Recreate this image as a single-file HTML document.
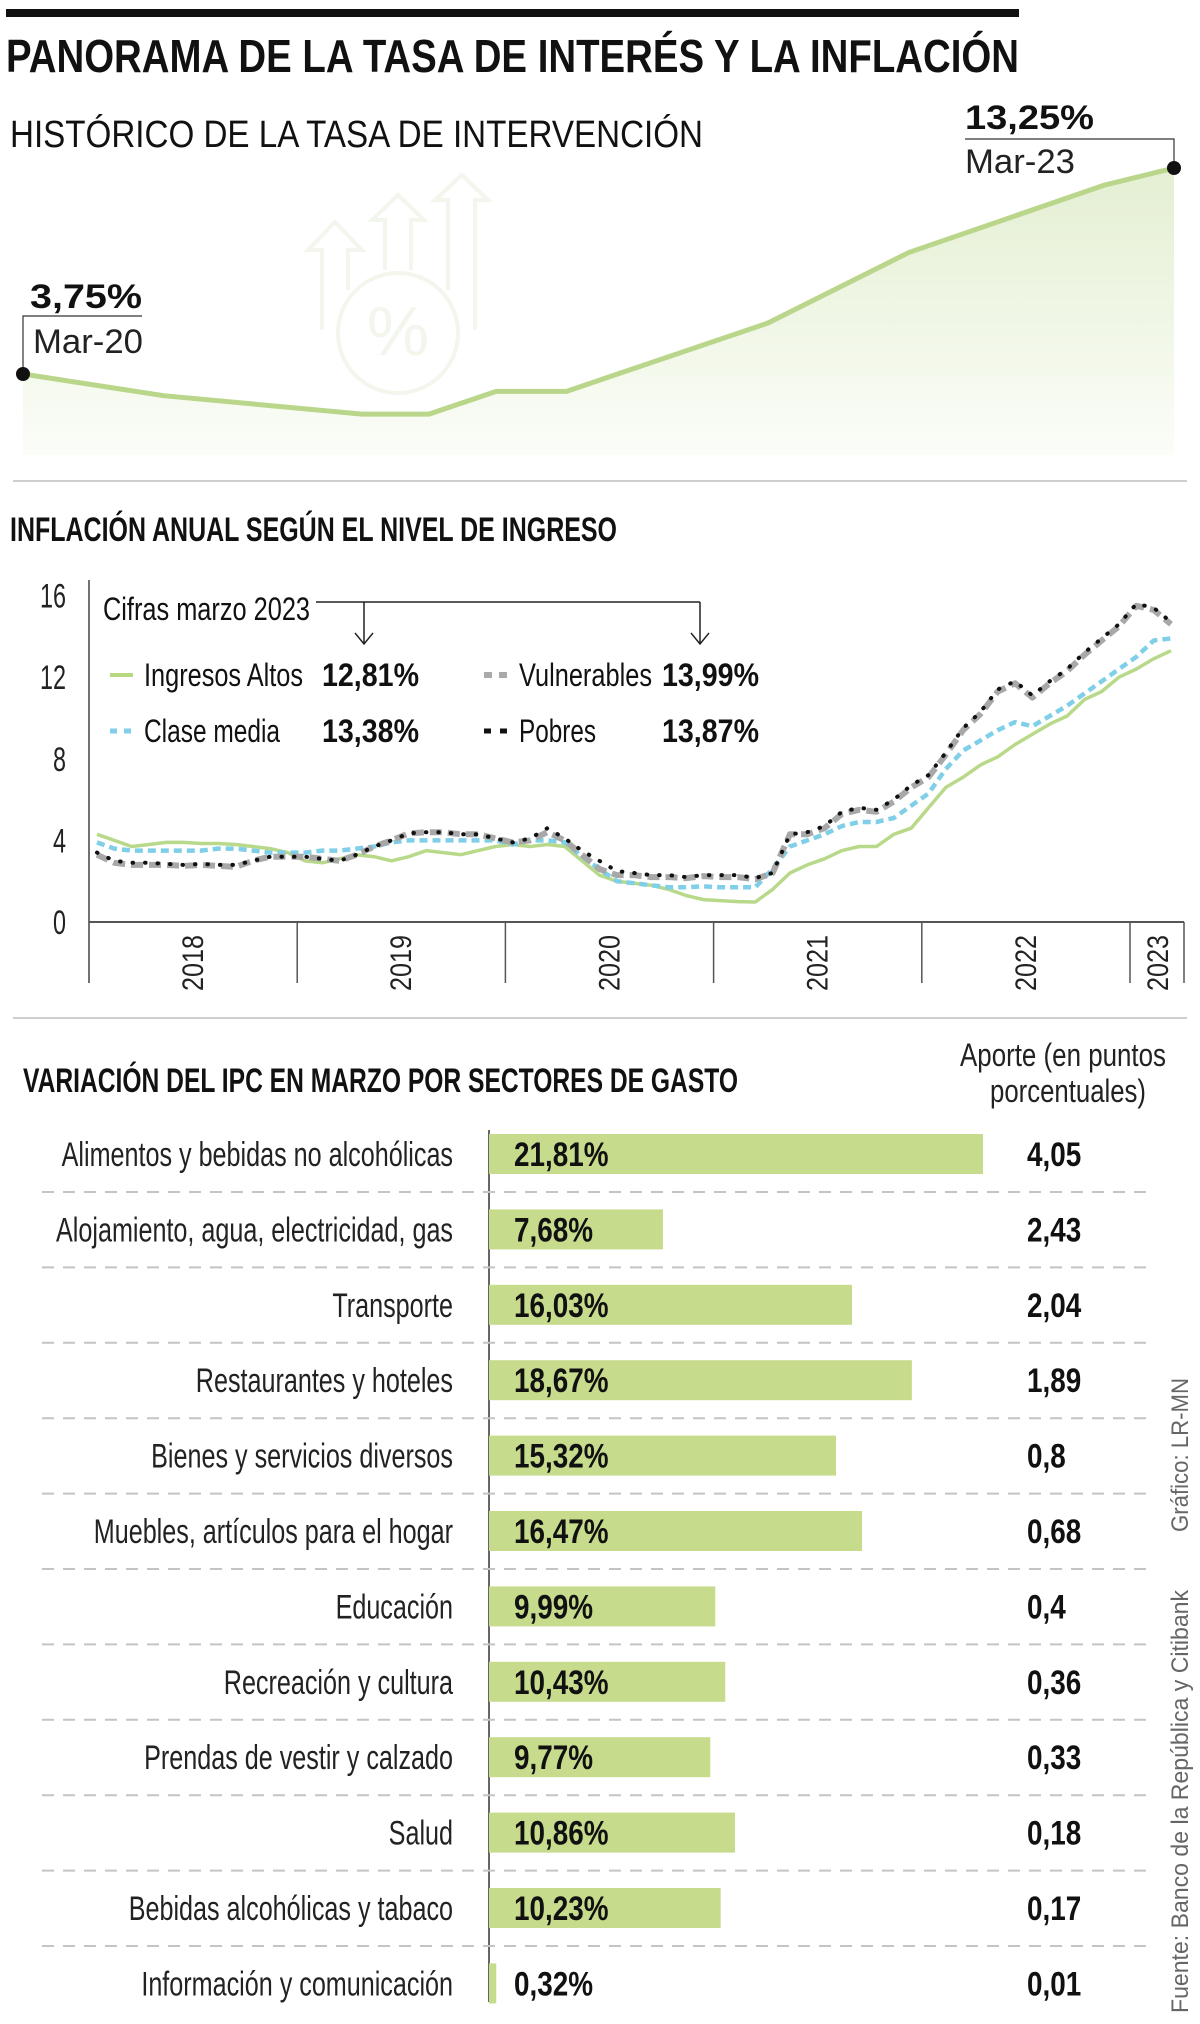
<!DOCTYPE html>
<html><head><meta charset="utf-8"><style>
html,body{margin:0;padding:0;background:#fff;}
svg{display:block;font-family:"Liberation Sans",sans-serif;}
</style></head><body>
<svg id="root" width="1200" height="2024" viewBox="0 0 1200 2024" xmlns="http://www.w3.org/2000/svg">
<defs>
<linearGradient id="areaGrad" x1="0" y1="0" x2="0" y2="1">
<stop offset="0" stop-color="#e4efd2"/><stop offset="1" stop-color="#fbfdf8"/>
</linearGradient>
</defs>
<rect x="6" y="9" width="1013" height="8" fill="#111"/>
<text x="6" y="72" font-size="46" font-weight="bold" textLength="1013" lengthAdjust="spacingAndGlyphs" fill="#111">PANORAMA DE LA TASA DE INTERÉS Y LA INFLACIÓN</text>
<text x="10" y="147" font-size="38" textLength="693" lengthAdjust="spacingAndGlyphs" fill="#111">HISTÓRICO DE LA TASA DE INTERVENCIÓN</text>
<g id="rateChart"></g>
<g fill="none" stroke="#f2f6ec" stroke-width="4">
<circle cx="398" cy="333" r="60"/>
<path d="M322 330 V250 H308 L335 222 L362 250 H348 V290"/>
<path d="M385 270 V220 H372 L398 195 L424 220 H411 V270"/>
<path d="M448 290 V200 H435 L462 175 L488 200 H475 V330"/>
<text x="398" y="355" font-size="70" fill="#f2f6ec" stroke="none" text-anchor="middle">%</text>
</g>
<line x1="13" y1="481" x2="1187" y2="481" stroke="#cfcfcf" stroke-width="2"/>
<text x="10" y="541" font-size="34" font-weight="bold" textLength="607" lengthAdjust="spacingAndGlyphs" fill="#111">INFLACIÓN ANUAL SEGÚN EL NIVEL DE INGRESO</text>
<g id="inflChart"></g>
<g fill="#111">
<text x="103" y="620" font-size="32" textLength="207" lengthAdjust="spacingAndGlyphs">Cifras marzo 2023</text>
<path d="M316 602 H700 M364 602 V644 M355 633 L364 644 L373 633 M700 602 V644 M691 633 L700 644 L709 633" stroke="#222" stroke-width="1.5" fill="none"/>
<g>
<line x1="110" y1="675" x2="133" y2="675" stroke="#b7d780" stroke-width="4"/>
<text x="144" y="686" font-size="32" textLength="159" lengthAdjust="spacingAndGlyphs">Ingresos Altos</text>
<text x="322" y="686" font-size="32" font-weight="bold" textLength="97" lengthAdjust="spacingAndGlyphs">12,81%</text></g>
<g>
<line x1="484" y1="675" x2="508" y2="675" stroke="#aaa" stroke-width="6" stroke-dasharray="8 7"/>
<text x="519" y="686" font-size="32" textLength="133" lengthAdjust="spacingAndGlyphs">Vulnerables</text>
<text x="662" y="686" font-size="32" font-weight="bold" textLength="97" lengthAdjust="spacingAndGlyphs">13,99%</text></g>
<g>
<line x1="110" y1="731" x2="133" y2="731" stroke="#7fcfe8" stroke-width="5" stroke-dasharray="7 7"/>
<text x="144" y="742" font-size="32" textLength="136" lengthAdjust="spacingAndGlyphs">Clase media</text>
<text x="322" y="742" font-size="32" font-weight="bold" textLength="97" lengthAdjust="spacingAndGlyphs">13,38%</text></g>
<g>
<line x1="484" y1="731" x2="508" y2="731" stroke="#111" stroke-width="5" stroke-dasharray="7 9"/>
<text x="519" y="742" font-size="32" textLength="77" lengthAdjust="spacingAndGlyphs">Pobres</text>
<text x="662" y="742" font-size="32" font-weight="bold" textLength="97" lengthAdjust="spacingAndGlyphs">13,87%</text></g>
</g>
<line x1="13" y1="1018" x2="1187" y2="1018" stroke="#cfcfcf" stroke-width="2"/>
<text x="23" y="1092" font-size="34" font-weight="bold" textLength="715" lengthAdjust="spacingAndGlyphs" fill="#111">VARIACIÓN DEL IPC EN MARZO POR SECTORES DE GASTO</text>
<text x="1063" y="1066" font-size="32" text-anchor="middle" textLength="206" lengthAdjust="spacingAndGlyphs" fill="#222">Aporte (en puntos</text>
<text x="1068" y="1102" font-size="32" text-anchor="middle" textLength="156" lengthAdjust="spacingAndGlyphs" fill="#222">porcentuales)</text>
<g id="barChart"></g>
<text transform="translate(1188,1532) rotate(-90)" font-size="24" textLength="154" lengthAdjust="spacingAndGlyphs" fill="#666">Gráfico: LR-MN</text>
<text transform="translate(1188,2013) rotate(-90)" font-size="24" textLength="423" lengthAdjust="spacingAndGlyphs" fill="#666">Fuente: Banco de la República y Citibank</text>
</svg>
<script>
// ---- Rate chart data ----
const rateMonths = [0, 4.4, 10.6, 12.7, 14.8, 17, 23.3, 27.7, 33.8, 36];
const rateValues = [3.75, 2.75, 1.9, 1.9, 2.95, 2.95, 6.1, 9.35, 12.45, 13.25];
const rateLabels = ["3,75%", "13,25%"];
const rateDates = ["Mar-20", "Mar-23"];

// ---- Inflation chart data ----
const yearLabels = ["2018", "2019", "2020", "2021", "2022", "2023"];
const yTicks = [0, 4, 8, 12, 16];
const altos = [4.3,4.0,3.7,3.8,3.9,3.9,3.85,3.85,3.8,3.7,3.6,3.4,3.0,2.9,3.1,3.3,3.2,3.0,3.2,3.5,3.4,3.3,3.5,3.7,3.8,3.7,3.8,3.7,3.0,2.3,2.0,1.9,1.8,1.6,1.3,1.1,1.05,1.0,0.98,1.6,2.4,2.8,3.1,3.5,3.7,3.7,4.3,4.6,5.6,6.6,7.1,7.7,8.1,8.7,9.2,9.7,10.1,10.9,11.3,12.0,12.4,12.9,13.3];
const media = [3.9,3.6,3.5,3.5,3.5,3.5,3.5,3.6,3.6,3.5,3.4,3.4,3.4,3.5,3.5,3.6,3.7,3.9,4.0,4.0,4.0,4.0,4.0,4.0,3.8,4.0,4.0,3.9,3.2,2.6,2.0,1.9,1.8,1.7,1.7,1.75,1.7,1.7,1.7,2.6,3.7,4.0,4.3,4.7,4.9,4.9,5.1,5.7,6.3,7.5,8.4,8.9,9.4,9.8,9.6,10.1,10.6,11.2,11.8,12.4,13.0,13.8,13.9];
const vulnerables = [3.3,2.9,2.8,2.8,2.8,2.75,2.8,2.75,2.7,3.0,3.2,3.2,3.2,3.1,3.0,3.3,3.7,4.0,4.35,4.4,4.4,4.3,4.3,4.1,3.9,4.0,4.4,4.0,3.3,2.6,2.3,2.3,2.2,2.2,2.15,2.25,2.2,2.2,2.1,2.4,4.3,4.3,4.6,5.3,5.5,5.4,5.9,6.6,7.1,8.2,9.4,10.2,11.3,11.7,11.0,11.7,12.3,13.1,13.8,14.5,15.5,15.3,14.6];
const pobres = [3.4,3.0,2.9,2.9,2.85,2.8,2.85,2.8,2.8,3.0,3.2,3.2,3.2,3.1,3.0,3.3,3.7,4.0,4.35,4.4,4.4,4.3,4.3,4.1,3.9,4.1,4.6,4.1,3.5,3.0,2.5,2.4,2.3,2.3,2.2,2.3,2.3,2.3,2.15,2.4,4.3,4.4,4.7,5.4,5.6,5.5,6.0,6.7,7.2,8.3,9.5,10.3,11.4,11.8,11.1,11.8,12.4,13.2,13.9,14.6,15.6,15.4,14.7];

// ---- Bar chart data ----
const sectors = ["Alimentos y bebidas no alcohólicas","Alojamiento, agua, electricidad, gas","Transporte","Restaurantes y hoteles","Bienes y servicios diversos","Muebles, artículos para el hogar","Educación","Recreación y cultura","Prendas de vestir y calzado","Salud","Bebidas alcohólicas y tabaco","Información y comunicación"];
const variation = [21.81,7.68,16.03,18.67,15.32,16.47,9.99,10.43,9.77,10.86,10.23,0.32];
const variationLabels = ["21,81%","7,68%","16,03%","18,67%","15,32%","16,47%","9,99%","10,43%","9,77%","10,86%","10,23%","0,32%"];
const aporteLabels = ["4,05","2,43","2,04","1,89","0,8","0,68","0,4","0,36","0,33","0,18","0,17","0,01"];

const NS = "http://www.w3.org/2000/svg";
function mk(parent, tag, attrs, txt) {
  const e = document.createElementNS(NS, tag);
  for (const k in attrs) e.setAttribute(k, attrs[k]);
  if (txt !== undefined) e.textContent = txt;
  parent.appendChild(e);
  return e;
}

// ===== Rate chart =====
(function(){
  const g = document.getElementById('rateChart');
  const rx = m => 23 + m * (1174 - 23) / 36;
  const ry = v => 374 - (v - 3.75) * (206 / 9.5);
  const pts = rateMonths.map((m, i) => [rx(m), ry(rateValues[i])]);
  const area = mk(g, 'path', {d: 'M' + pts.map(p => p.join(',')).join(' L') + ` L${pts[pts.length-1][0]},455 L${pts[0][0]},455 Z`, fill: 'url(#areaGrad)'});
  
  
  const line = mk(g, 'polyline', {points: pts.map(p => p.join(',')).join(' '), fill: 'none', stroke: '#b9d68a', 'stroke-width': 5, 'stroke-linejoin': 'round'});
  
  
  const first = pts[0], last = pts[pts.length-1];
  mk(g, 'path', {d: `M${first[0]},${first[1]} V316 H142`, stroke: '#333', 'stroke-width': 1.2, fill: 'none'});
  const t1 = mk(g, 'text', {x: 30, y: 308, 'font-size': 34, 'font-weight': 'bold', textLength: 112, lengthAdjust: 'spacingAndGlyphs', fill: '#111'}, rateLabels[0]);
  
  
  const t2 = mk(g, 'text', {x: 33, y: 353, 'font-size': 34, textLength: 110, lengthAdjust: 'spacingAndGlyphs', fill: '#222'}, rateDates[0]);
  
  
  mk(g, 'path', {d: `M965,139 H${last[0]} V${last[1]}`, stroke: '#333', 'stroke-width': 1.2, fill: 'none'});
  const t3 = mk(g, 'text', {x: 965, y: 129, 'font-size': 34, 'font-weight': 'bold', textLength: 129, lengthAdjust: 'spacingAndGlyphs', fill: '#111'}, rateLabels[1]);
  
  
  const t4 = mk(g, 'text', {x: 965, y: 173, 'font-size': 34, textLength: 110, lengthAdjust: 'spacingAndGlyphs', fill: '#222'}, rateDates[1]);
  
  
  const d1 = mk(g, 'circle', {cx: first[0], cy: first[1], r: 7, fill: '#111'});
  
  
  const d2 = mk(g, 'circle', {cx: last[0], cy: last[1], r: 7, fill: '#111'});
  
  
})();

// ===== Inflation chart =====
(function(){
  const g = document.getElementById('inflChart');
  const x = i => 97 + i * (1171 - 97) / 62;
  const y = v => 922 - v * 20.4;
  yTicks.forEach(v => {
    const t = mk(g, 'text', {x: 66, y: y(v) + 12, 'font-size': 34, 'text-anchor': 'end', textLength: String(v).length * 13, lengthAdjust: 'spacingAndGlyphs', fill: '#222'}, String(v));
    
    
  });
  mk(g, 'line', {x1: 89, y1: 580, x2: 89, y2: 983, stroke: '#444', 'stroke-width': 1.5});
  const base = mk(g, 'line', {x1: 89, y1: 922, x2: 1184, y2: 922, stroke: '#555', 'stroke-width': 2});
  
  
  yearLabels.forEach((lab, k) => {
    const sx = 89 + k * 208.2;
    if (k > 0) mk(g, 'line', {x1: sx, y1: 922, x2: sx, y2: 983, stroke: '#555', 'stroke-width': 1.5});
    const cx = k < 5 ? sx + 104 : 1158;
    const t = mk(g, 'text', {transform: `translate(${cx + 10},963) rotate(-90)`, 'font-size': 30, 'text-anchor': 'middle', textLength: 56, lengthAdjust: 'spacingAndGlyphs', fill: '#222'}, lab);
    
    
  });
  mk(g, 'line', {x1: 1184, y1: 922, x2: 1184, y2: 983, stroke: '#555', 'stroke-width': 1.5});
  const series = [
    {d: altos, name: 'series-ingresos-altos', a: {stroke: '#b9d98a', 'stroke-width': 3.5}},
    {d: media, name: 'series-clase-media', a: {stroke: '#7fcfe8', 'stroke-width': 4.5, 'stroke-dasharray': '8 5'}},
    {d: vulnerables, name: 'series-vulnerables', a: {stroke: '#a8a8a8', 'stroke-width': 6, 'stroke-dasharray': '12 6'}},
    {d: pobres, name: 'series-pobres', a: {stroke: '#111', 'stroke-width': 4, 'stroke-dasharray': '0.5 12', 'stroke-linecap': 'round'}}
  ];
  series.forEach(s => {
    const attrs = Object.assign({points: s.d.map((v, i) => x(i).toFixed(1) + ',' + y(v).toFixed(1)).join(' '), fill: 'none', 'stroke-linejoin': 'round'}, s.a);
    const p = mk(g, 'polyline', attrs);
    
    
  });
})();

// ===== Bar chart =====
(function(){
  const g = document.getElementById('barChart');
  const bx = v => 489 + v * (494 / 21.81);
  const rowY = k => 1154 + k * 75.4;
  const ax = mk(g, 'line', {x1: 489, y1: 1130, x2: 489, y2: 2002, stroke: '#333', 'stroke-width': 1.5});
  
  
  sectors.forEach((s, k) => {
    const cy = rowY(k);
    if (k < sectors.length - 1) {
      const sep = mk(g, 'line', {x1: 42, y1: cy + 38, x2: 1150, y2: cy + 38, stroke: '#c4c4c4', 'stroke-width': 2, 'stroke-dasharray': '12 9'});
      
      
    }
    const bar = mk(g, 'rect', {x: 489, y: cy - 20, width: bx(variation[k]) - 489, height: 40, fill: '#c7db8d'});
    
    
    const lab = mk(g, 'text', {transform: `translate(453,${cy + 12}) scale(0.74,1)`, 'font-size': 34, 'text-anchor': 'end', fill: '#222'}, s);
    
    
    const val = mk(g, 'text', {transform: `translate(514,${cy + 12}) scale(0.82,1)`, 'font-size': 34, 'font-weight': 'bold', fill: '#111'}, variationLabels[k]);
    
    
    const ap = mk(g, 'text', {transform: `translate(1027,${cy + 12}) scale(0.82,1)`, 'font-size': 34, 'font-weight': 'bold', fill: '#111'}, aporteLabels[k]);
    
    
  });
})();
</script>
</body></html>
